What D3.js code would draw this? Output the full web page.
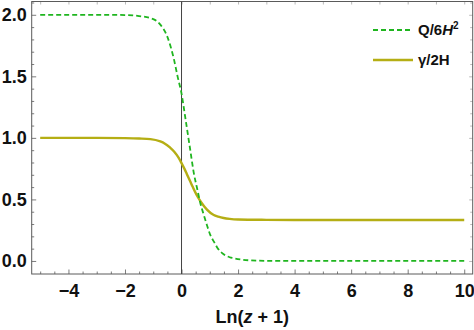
<!DOCTYPE html>
<html>
<head>
<meta charset="utf-8">
<script src="https://cdn.jsdelivr.net/npm/d3@7/dist/d3.min.js"></script>
<style>
  body { margin: 0; background: #fff; }
  svg { display: block; font-family: "Liberation Sans", Arial, sans-serif; }
</style>
</head>
<body>
<script>
// values
var qX = [-5, -3, -2, -1.5, -1.0, -0.75, -0.5, -0.28, -0.14, 0, 0.13, 0.19, 0.31, 0.43, 0.57, 0.67, 0.78, 0.9, 1.02, 1.15, 1.26, 1.49, 1.7, 1.85, 2.1, 2.4, 3, 4, 10];
var qY = [2.0, 2.0, 1.998, 1.99, 1.965, 1.92, 1.82, 1.65, 1.50, 1.36, 1.17, 1.08, 0.90, 0.72, 0.57, 0.465, 0.38, 0.29, 0.21, 0.155, 0.11, 0.055, 0.03, 0.022, 0.012, 0.005, 0.001, 0, 0];
var gX = [-5, -3, -2, -1.5, -1.1, -0.75, -0.6, -0.4, -0.25, -0.1, 0, 0.1, 0.19, 0.31, 0.4, 0.55, 0.7, 0.9, 1.14, 1.3, 1.49, 1.7, 2.0, 3, 4, 10];
var gY = [1.0, 1.0, 0.998, 0.995, 0.99, 0.971, 0.955, 0.92, 0.886, 0.838, 0.795, 0.75, 0.705, 0.645, 0.60, 0.53, 0.475, 0.417, 0.373, 0.36, 0.349, 0.342, 0.337, 0.334, 0.333, 0.333];
var xTicks = [-4, -2, 0, 2, 4, 6, 8, 10];
var yTicks = [0.0, 0.5, 1.0, 1.5, 2.0];
var seriesNames = ["Q/6H2", "γ/2H"];

var width = 474, height = 330;
// plot frame edges (note: "top" is taken by window.top)
var pLeft = 31.7, pRight = 472.7, pTop = 1.5, pBottom = 274;
var frameColor = "#5a5a5a", faintTick = "#a8a8a8";
var green = "#1fb51f", olive = "#b5ae14";

var svg = d3.select("body").append("svg")
    .attr("width", width)
    .attr("height", height);

var x = d3.scaleLinear().domain([-5.3, 10.3]).range([pLeft, pRight]);
var y = d3.scaleLinear().domain([-0.106, 2.108]).range([pBottom, pTop]);

// minor ticks
var xMinor = d3.range(-5, 10.01, 0.5).filter(function(v) { return xTicks.indexOf(v) < 0; });
var xTop = d3.range(-5, 10.01, 1);
var yMinor = d3.range(0, 2.101, 0.1).map(function(v) { return +v.toFixed(1); })
    .filter(function(v) { return yTicks.indexOf(v) < 0; });

var drawAxis = function(axis, tx, ty, col) {
  var g = svg.append("g").attr("transform", "translate(" + tx + "," + ty + ")").call(axis);
  g.select(".domain").remove();
  g.selectAll(".tick line").attr("stroke", col || frameColor).attr("stroke-width", 0.8);
  return g;
};

// bottom
var gx = drawAxis(d3.axisBottom(x).tickValues(xTicks).tickSize(-4.5).tickPadding(10)
    .tickFormat(d3.format("d")), 0, pBottom);
drawAxis(d3.axisBottom(x).tickValues(xMinor).tickSize(-2.5).tickFormat(""), 0, pBottom);
// top (no labels, faint)
drawAxis(d3.axisTop(x).tickValues(xTop).tickSize(-3).tickFormat(""), 0, pTop, faintTick);
// left
var gy = drawAxis(d3.axisLeft(y).tickValues(yTicks).tickSize(-4.5).tickPadding(5)
    .tickFormat(d3.format(".1f")), pLeft, 0);
drawAxis(d3.axisLeft(y).tickValues(yMinor).tickSize(-2.5).tickFormat(""), pLeft, 0);
// right (faint)
drawAxis(d3.axisRight(y).tickValues(yTicks).tickSize(-3.5).tickFormat(""), pRight, 0, faintTick);
drawAxis(d3.axisRight(y).tickValues(yMinor).tickSize(-2.5).tickFormat(""), pRight, 0, faintTick);

[gx, gy].forEach(function(g) {
  g.selectAll(".tick text")
    .attr("fill", "#111")
    .style("font-size", "18px")
    .style("font-weight", "bold")
    .style("font-family", "'Liberation Sans', Arial, sans-serif");
});

// frame
svg.append("rect")
    .attr("x", pLeft).attr("y", pTop)
    .attr("width", pRight - pLeft).attr("height", pBottom - pTop)
    .attr("fill", "none")
    .attr("stroke", frameColor)
    .attr("stroke-width", 1);

// vertical line at 0
svg.append("line")
    .attr("x1", x(0)).attr("x2", x(0))
    .attr("y1", pTop).attr("y2", pBottom)
    .attr("stroke", "#444").attr("stroke-width", 1);

var line = d3.line()
    .x(function(d) { return x(d[0]); })
    .y(function(d) { return y(d[1]); })
    .curve(d3.curveMonotoneX);

svg.append("path")
    .datum(d3.zip(gX, gY))
    .attr("d", line)
    .attr("fill", "none")
    .attr("stroke", olive)
    .attr("stroke-width", 2.4);

svg.append("path")
    .datum(d3.zip(qX, qY))
    .attr("d", line)
    .attr("fill", "none")
    .attr("stroke", green)
    .attr("stroke-width", 1.8)
    .attr("stroke-dasharray", "5,3");

// legend
var legend = svg.append("g");
legend.append("line")
    .attr("x1", 373).attr("x2", 411).attr("y1", 30).attr("y2", 30)
    .attr("stroke", green).attr("stroke-width", 1.8).attr("stroke-dasharray", "5,3");
legend.append("line")
    .attr("x1", 373).attr("x2", 413).attr("y1", 60).attr("y2", 60)
    .attr("stroke", olive).attr("stroke-width", 2.4);

var t1 = legend.append("text").attr("x", 418).attr("y", 35)
    .style("font-size", "15px").style("font-weight", "bold").attr("fill", "#111");
t1.append("tspan").text("Q/6");
t1.append("tspan").style("font-style", "italic").text("H");
t1.append("tspan").attr("dy", -6).style("font-size", "10px").text("2");

legend.append("text").attr("x", 418).attr("y", 65)
    .style("font-size", "15px").style("font-weight", "bold").attr("fill", "#111")
    .text(seriesNames[1]);

// x axis title
var title = svg.append("text")
    .attr("x", x(2.5)).attr("y", 323)
    .attr("text-anchor", "middle")
    .style("font-size", "18px").style("font-weight", "bold").attr("fill", "#111");
title.append("tspan").text("Ln(");
title.append("tspan").style("font-style", "italic").text("z");
title.append("tspan").text(" + 1)");
</script>
</body>
</html>
